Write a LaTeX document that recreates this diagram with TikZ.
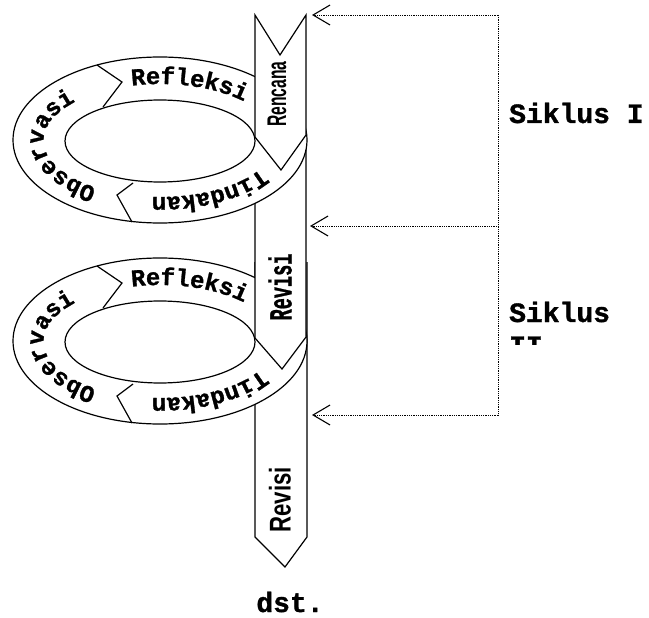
\documentclass[tikz,border=0pt]{standalone}
\usepackage{fontspec}
\usetikzlibrary{arrows.meta,decorations.text}
\newfontfamily\monof{Liberation Mono}[BoldFeatures={FakeBold=1.2}]
\newfontfamily\sansf{Liberation Sans}
\newcommand{\ringfont}{\monof\bfseries\fontsize{24}{24}\selectfont}
\begin{document}
\begin{tikzpicture}[x=1pt,y=1pt,
  ln/.style={line width=1.2pt, line join=miter},
  dotln/.style={line width=0.9pt, dash pattern=on 0.9pt off 0.9pt},
  dotarr/.style={dotln, -{Straight Barb[length=17pt,width=20pt,line width=1.1pt]}},
  lbl/.style={font=\monof\bfseries\fontsize{28}{33}\selectfont, inner sep=0pt},
  ringtext/.style={decorate, decoration={text along path, text align=left, raise=-0.5pt, text={|\ringfont|#1}}}
]
\useasboundingbox (0,0) rectangle (649,-618);

% ring macro
\newcommand{\drawring}{%
  \fill[white] (160,-140) ellipse [x radius=147pt, y radius=83pt];
  \draw[ln] (160,-140) ellipse [x radius=147pt, y radius=83pt];
  \draw[ln, fill=white] (160,-141) ellipse [x radius=95pt, y radius=41pt];
  \draw[ln] (97,-65) -- (122,-82) -- (103,-107);
  \draw[ln] (133,-183) -- (117,-195) -- (132,-222);
  \path[ringtext=Refleksi] (160,-140.5) ++(104:117pt and 57pt)
     arc[start angle=104, end angle=-10, x radius=117pt, y radius=57pt];
  \path[ringtext=Observasi] (160,-140.5) ++(237:117pt and 57pt)
     arc[start angle=237, end angle=70, x radius=117pt, y radius=57pt];
  \path[ringtext=Tindakan] (160,-140.5) ++(330:117pt and 57pt)
     arc[start angle=330, end angle=190, x radius=117pt, y radius=57pt];
}

% Revisi 2 band (lowest)
\fill[white] (255,-262) -- (255,-537) -- (285,-567) -- (307,-537) -- (307,-262) -- cycle;
\draw[ln] (255,-262) -- (255,-537) -- (285,-567) -- (307,-537) -- (307,-262);

% ring 2
\begin{scope}[yshift=-201pt]
\drawring
\end{scope}

% Revisi 1 band
\fill[white] (255,-135) -- (255,-338) -- (282,-369) -- (306,-337) -- (306,-135) -- cycle;
\draw[ln] (255,-135) -- (255,-338) -- (282,-369) -- (306,-337) -- (306,-135);

% ring 1
\drawring

% Rencana band (top)
\draw[ln, fill=white] (255,-15) -- (280,-55) -- (306,-15) -- (306,-135) -- (281,-170) -- (255,-137) -- cycle;

% band texts
\node[rotate=90, inner sep=0pt] (tren) at (277,-94)
  {\sansf\bfseries\fontsize{27}{27}\selectfont\scalebox{0.58}[1]{Rencana}};
\node[rotate=90, inner sep=0pt] (trev1) at (280,-287)
  {\monof\bfseries\fontsize{32}{32}\selectfont\scalebox{0.58}[1]{Revisi}};
\node[rotate=90, inner sep=0pt] (trev2) at (280,-500)
  {\sansf\bfseries\fontsize{30}{30}\selectfont\scalebox{0.74}[1]{Revisi}};

% dotted connectors
\coordinate (c1) at (498,-15);
\coordinate (c2) at (497,-226);
\coordinate (c3) at (498,-415);
\coordinate (e1) at (312,-15);
\coordinate (e2) at (310,-226);
\coordinate (e3) at (312,-415);
\draw[dotln] (c1) -- (c3);
\draw[dotarr] (c1) -- (e1);
\draw[dotarr] (c2) -- (e2);
\draw[dotarr] (c3) -- (e3);

% labels
\node[lbl, anchor=base west] (s1) at (509,-123) {Siklus I};
\node[lbl, anchor=base west] (s2) at (509,-322) {Siklus};
\begin{scope}
\clip (500,-300) rectangle (600,-344);
\node[lbl, anchor=base west] (s2b) at (509,-355) {II};
\end{scope}
\node[lbl, anchor=base] (dst) at (290,-612) {dst.};
\end{tikzpicture}
\end{document}
